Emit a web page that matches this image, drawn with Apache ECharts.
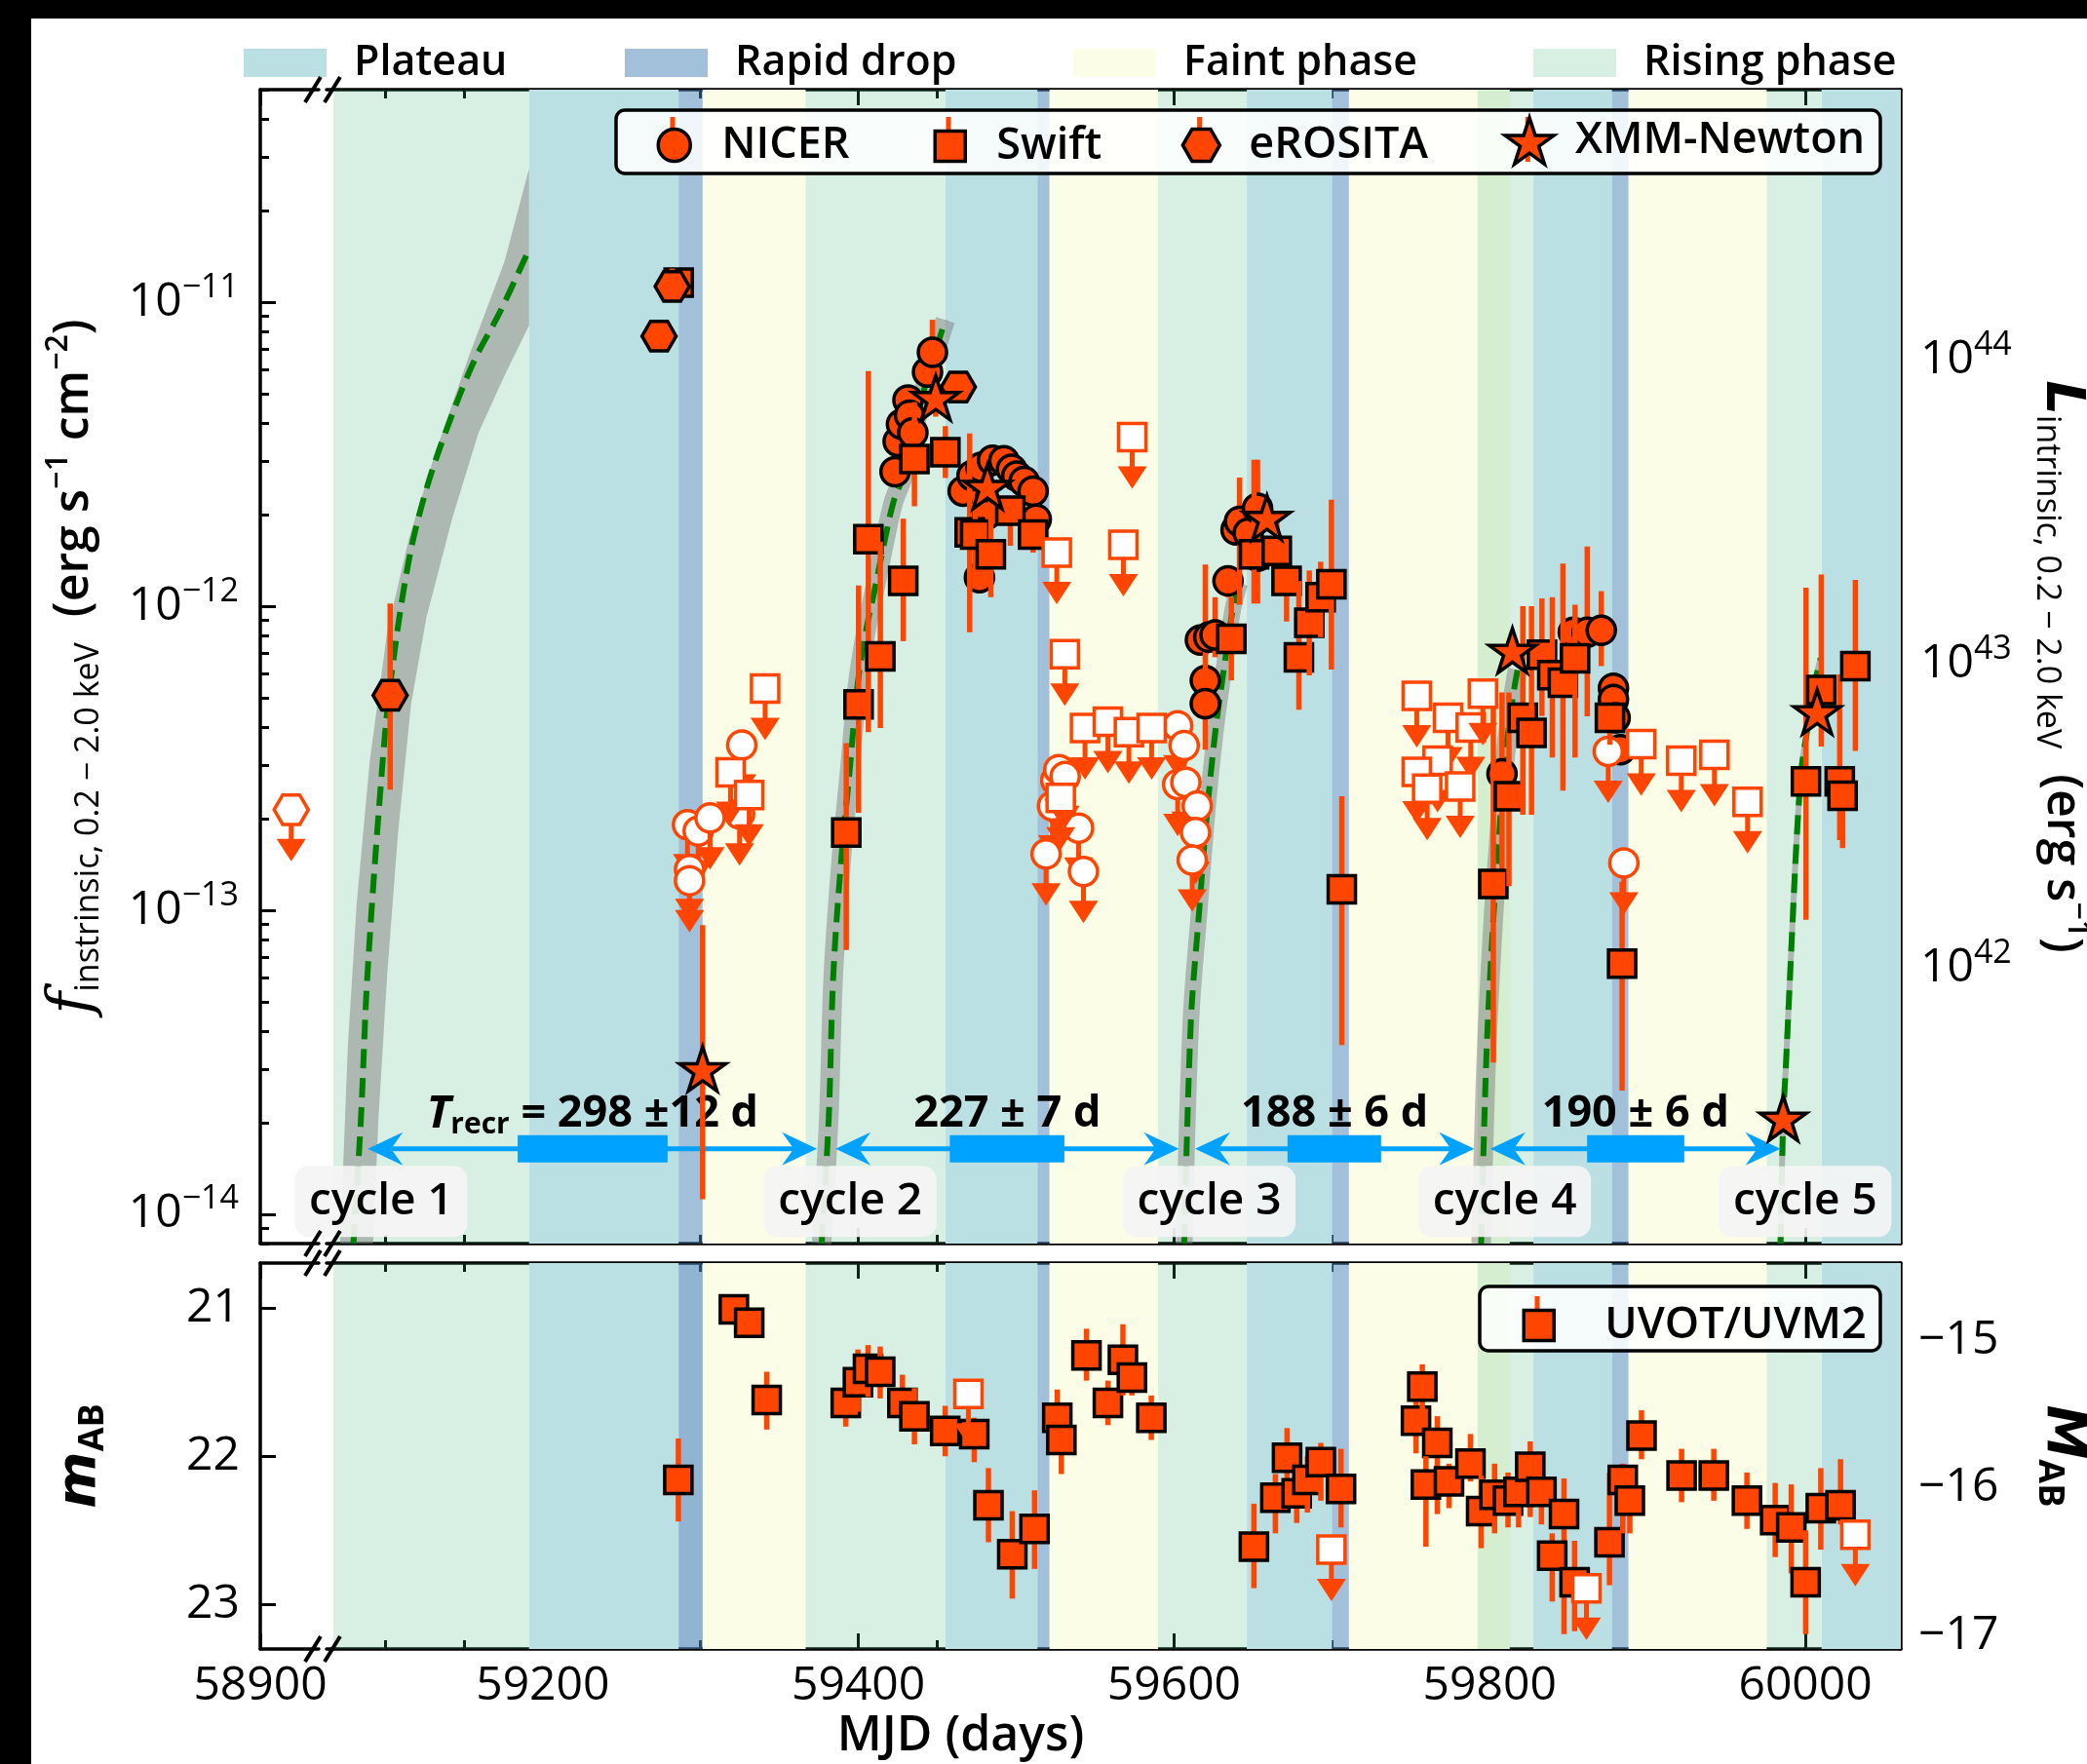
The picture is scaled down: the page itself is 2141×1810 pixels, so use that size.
<!DOCTYPE html>
<html>
<head>
<meta charset="utf-8">
<title>Repeating nuclear transient light curve</title>
<script src="https://cdn.jsdelivr.net/npm/echarts@6/dist/echarts.min.js"></script>
<style>
html, body { margin: 0; padding: 0; background: #fff; }
#chart { width: 2141px; height: 1810px; }
</style>
</head>
<body>
<div id="chart"></div>
<script>
// ======================= DATA =======================
// X-ray detections: [MJD, flux, fluxLow, fluxHigh]  (erg s^-1 cm^-2, 0.2-2 keV)
const nicerDet = [
  [59423.2, 2.77e-12, 2.55e-12, 3.0e-12], [59425.2, 3.48e-12, 3.2e-12, 3.75e-12],
  [59427.3, 3.97e-12, 3.7e-12, 4.3e-12], [59431.4, 4.76e-12, 4.4e-12, 5.1e-12],
  [59432.4, 4.25e-12, 3.95e-12, 4.55e-12], [59434.5, 3.72e-12, 3.45e-12, 4.0e-12],
  [59443.8, 5.89e-12, 5.5e-12, 6.3e-12], [59446.9, 6.84e-12, 6.4e-12, 8.75e-12],
  [59466.4, 2.39e-12, 2.2e-12, 2.6e-12], [59472.0, 2.69e-12, 2.5e-12, 2.9e-12],
  [59477.7, 2.86e-12, 2.65e-12, 3.05e-12], [59485.0, 3.02e-12, 2.8e-12, 3.2e-12],
  [59492.2, 3.01e-12, 2.8e-12, 3.2e-12], [59497.0, 2.82e-12, 2.6e-12, 3.0e-12],
  [59500.4, 2.68e-12, 2.5e-12, 2.9e-12], [59505.0, 2.57e-12, 2.4e-12, 2.75e-12],
  [59510.7, 2.39e-12, 2.2e-12, 2.6e-12], [59512.7, 1.93e-12, 1.8e-12, 2.1e-12],
  [59476.7, 1.24e-12, 1.15e-12, 1.35e-12], [59481.0, 2.0e-12, 1.85e-12, 2.15e-12],
  [59616.7, 7.73e-13, 7.0e-13, 8.5e-13], [59619.8, 5.69e-13, 5.1e-13, 6.3e-13],
  [59619.8, 4.78e-13, 3.37e-13, 1.37e-12], [59622.0, 7.9e-13, 7.2e-13, 8.7e-13],
  [59626.0, 8.04e-13, 6.79e-13, 1.07e-12], [59634.2, 1.21e-12, 1.07e-12, 1.35e-12],
  [59639.3, 1.78e-12, 1.6e-12, 1.95e-12], [59641.5, 1.90e-12, 1.01e-12, 2.65e-12],
  [59647.0, 1.74e-12, 1.6e-12, 1.9e-12], [59652.9, 2.10e-12, 1.02e-12, 3.03e-12],
  [59652.9, 1.46e-12, 1.3e-12, 1.6e-12],
  [59807.8, 2.81e-13, 1.2e-13, 5.2e-13], [59853.0, 8.20e-13, 7.5e-13, 9.0e-13],
  [59861.8, 8.20e-13, 4.34e-13, 1.57e-12], [59870.7, 8.32e-13, 6.35e-13, 1.12e-12],
  [59878.4, 5.37e-13, 4.9e-13, 5.9e-13], [59878.4, 4.93e-13, 4.5e-13, 5.4e-13],
  [59879.5, 4.29e-13, 3.9e-13, 4.7e-13], [59882.8, 3.37e-13, 3.1e-13, 3.7e-13]
];
// X-ray upper limits: [MJD, flux]
const nicerUL = [
  [59291.7, 1.91e-13], [59298.5, 1.82e-13], [59306.0, 2.01e-13], [59293.0, 1.36e-13],
  [59293.0, 1.25e-13], [59324.7, 2.07e-13], [59326.1, 3.49e-13],
  [59529.2, 2.86e-13], [59525.1, 2.67e-13], [59523.0, 2.20e-13], [59518.9, 1.53e-13],
  [59539.5, 1.86e-13], [59542.6, 1.34e-13], [59527.0, 2.9e-13], [59531.0, 2.75e-13],
  [59602.3, 4.04e-13], [59606.4, 3.48e-13], [59602.3, 2.59e-13], [59607.5, 2.63e-13],
  [59614.7, 2.20e-13], [59613.6, 1.80e-13], [59611.5, 1.46e-13],
  [59875.1, 3.33e-13], [59885.0, 1.43e-13]
];
const swiftDet = [
  [59286.1, 1.16e-11, 1.08e-11, 1.29e-11],
  [59392.3, 1.80e-13, 7.4e-14, 3.54e-13], [59400.1, 4.75e-13, 2.09e-13, 1.17e-12],
  [59406.3, 1.66e-12, 3.85e-13, 5.93e-12], [59413.9, 6.84e-13, 3.97e-13, 1.63e-12],
  [59428.4, 1.21e-12, 7.67e-13, 1.94e-12], [59435.5, 3.05e-12, 2.13e-12, 4.69e-12],
  [59455.1, 3.21e-12, 2.64e-12, 3.91e-12], [59470.5, 1.75e-12, 8.2e-13, 3.7e-12],
  [59474.0, 1.72e-12, 1.3e-12, 2.3e-12], [59483.9, 1.48e-12, 1.07e-12, 2.51e-12],
  [59496.3, 2.06e-12, 1.58e-12, 2.2e-12], [59510.7, 1.72e-12, 1.5e-12, 2.0e-12],
  [59636.3, 7.80e-13, 5.7e-13, 1.07e-12], [59650.7, 1.48e-12, 1.02e-12, 3.03e-12],
  [59665.1, 1.52e-12, 1.2e-12, 1.9e-12], [59671.3, 1.21e-12, 8.9e-13, 1.35e-12],
  [59679.1, 6.79e-13, 4.56e-13, 1.21e-12], [59685.7, 8.81e-13, 5.92e-13, 1.31e-12],
  [59692.9, 1.07e-12, 7.9e-13, 1.4e-12], [59699.7, 1.18e-12, 6.19e-13, 2.24e-12],
  [59706.3, 1.17e-13, 3.6e-14, 2.37e-13],
  [59802.3, 1.22e-13, 3.15e-14, 5.77e-13], [59812.2, 2.37e-13, 1.2e-13, 5.2e-13],
  [59821.0, 4.29e-13, 2.06e-13, 1.0e-12], [59826.5, 3.83e-13, 2.06e-13, 1.0e-12],
  [59833.1, 6.92e-13, 4.35e-13, 1.06e-12], [59839.7, 5.93e-13, 3.18e-13, 1.07e-12],
  [59846.4, 5.60e-13, 2.47e-13, 1.38e-12], [59854.1, 6.73e-13, 3.18e-13, 1.01e-12],
  [59876.2, 4.29e-13, 3.5e-13, 5.2e-13], [59883.9, 6.67e-14, 2.55e-14, 1.24e-13],
  [60000.4, 2.65e-13, 9.3e-14, 1.15e-12], [60010.1, 5.30e-13, 3.45e-13, 1.27e-12],
  [60021.8, 2.65e-13, 1.7e-13, 5.96e-13], [60023.6, 2.38e-13, 1.6e-13, 2.8e-13],
  [60031.7, 6.35e-13, 3.34e-13, 1.22e-12]
];
const swiftUL = [
  [59319.0, 2.84e-13], [59330.8, 2.39e-13], [59340.9, 5.36e-13],
  [59525.7, 1.50e-12], [59530.8, 6.95e-13], [59567.9, 1.59e-12], [59573.5, 3.60e-12],
  [59528.2, 2.34e-13], [59543.6, 3.97e-13], [59558.1, 4.17e-13], [59571.4, 3.85e-13],
  [59585.8, 3.97e-13],
  [59753.8, 5.07e-13], [59773.6, 4.29e-13], [59788.0, 3.99e-13], [59795.7, 5.15e-13],
  [59767.0, 3.10e-13], [59753.8, 2.85e-13], [59760.4, 2.51e-13], [59781.3, 2.55e-13],
  [59896.0, 3.52e-13], [59921.4, 3.10e-13], [59942.4, 3.24e-13], [59963.4, 2.27e-13]
];
const erositaDet = [
  [59103.3, 5.09e-13, 2.49e-13, 1.02e-12], [59273.7, 7.73e-12, 7.73e-12, 7.73e-12],
  [59282.0, 1.127e-11, 1.08e-11, 1.29e-11], [59463.3, 5.26e-12, 5.26e-12, 5.26e-12]
];
const erositaUL = [[58919.6, 2.14e-13]];
const xmmDet = [
  [59301.3, 2.95e-14, 1.12e-14, 8.93e-14], [59449.0, 4.76e-12, 4.2e-12, 5.4e-12],
  [59481.8, 2.43e-12, 2.3e-12, 2.6e-12], [59658.9, 1.92e-12, 1.8e-12, 2.05e-12],
  [59814.4, 7.02e-13, 6.6e-13, 7.5e-13], [59986.0, 2.03e-14, 2.03e-14, 2.03e-14],
  [60007.5, 4.41e-13, 4.1e-13, 4.7e-13]
];
const xmmUL = [];
// UVOT/UVM2: [MJD, m_AB, brightEnd, faintEnd]
const uvotDet = [
  [59285.9, 22.16, 21.88, 22.44], [59321.1, 21.01, 20.98, 21.04], [59330.8, 21.10, 21.07, 21.13],
  [59341.9, 21.62, 21.43, 21.82], [59392.0, 21.64, 21.47, 21.80], [59399.7, 21.50, 21.28, 21.70],
  [59406.1, 21.41, 21.25, 21.60], [59413.8, 21.43, 21.26, 21.61], [59427.9, 21.64, 21.45, 21.78],
  [59435.5, 21.73, 21.54, 21.92], [59455.0, 21.83, 21.66, 22.00], [59473.4, 21.85, 21.74, 22.04],
  [59482.4, 22.33, 22.08, 22.58], [59497.5, 22.66, 22.37, 22.96], [59511.6, 22.49, 22.23, 22.76],
  [59526.0, 21.74, 21.55, 21.95], [59528.6, 21.89, 21.78, 22.12], [59544.5, 21.32, 21.14, 21.49],
  [59558.1, 21.64, 21.49, 21.79], [59567.6, 21.35, 21.11, 21.59], [59573.3, 21.47, 21.30, 21.59],
  [59585.6, 21.74, 21.59, 21.89], [59650.6, 22.61, 22.32, 22.89], [59664.2, 22.28, 22.12, 22.52],
  [59671.6, 22.01, 21.81, 22.28], [59677.7, 22.25, 22.11, 22.45], [59684.5, 22.16, 22.00, 22.38],
  [59693.0, 22.04, 21.91, 22.30], [59705.8, 22.22, 21.95, 22.48], [59753.3, 21.76, 21.60, 21.98],
  [59757.3, 21.53, 21.38, 21.69], [59766.8, 21.91, 21.73, 22.39], [59759.6, 22.19, 22.00, 22.61],
  [59774.2, 22.17, 22.05, 22.35], [59787.8, 22.05, 21.85, 22.17], [59794.6, 22.37, 22.13, 22.62],
  [59803.1, 22.26, 22.05, 22.52], [59811.6, 22.30, 22.11, 22.48], [59818.3, 22.24, 22.08, 22.48],
  [59825.7, 22.07, 21.90, 22.41], [59832.8, 22.24, 22.15, 22.46], [59847.1, 22.39, 22.15, 23.20],
  [59839.6, 22.67, 22.52, 22.98], [59853.8, 22.85, 22.57, 23.18], [59875.9, 22.58, 22.11, 22.87],
  [59884.3, 22.16, 22.05, 22.52], [59888.8, 22.30, 22.24, 22.52], [59896.2, 21.86, 21.69, 22.02],
  [59921.6, 22.13, 21.95, 22.31], [59942.0, 22.13, 21.95, 22.30], [59963.0, 22.30, 22.11, 22.49],
  [59980.9, 22.43, 22.18, 22.68], [59991.1, 22.48, 22.19, 22.79], [60000.2, 22.85, 22.50, 23.20],
  [60009.8, 22.35, 22.08, 22.63], [60022.3, 22.33, 22.02, 22.46]
];
const uvotUL = [[59469.7, 21.58], [59699.7, 22.63], [59861.3, 22.89], [60031.7, 22.53]];

// Rise model curves [MJD, flux]
const fitCycle1 = [[59080.0, 8.0e-15], [59084.8, 2.07e-14], [59088.9, 6.12e-14], [59098.6, 3.10e-13],
  [59104.1, 5.93e-13], [59115.1, 1.41e-12], [59126.2, 2.42e-12], [59140.0, 3.93e-12],
  [59156.5, 6.40e-12], [59173.1, 9.33e-12], [59191.0, 1.48e-11]];
const bandCycle1Upper = [[59071.6, 8.0e-15], [59076.5, 3.56e-14], [59082.1, 1.05e-13], [59090.4, 3.10e-13],
  [59101.4, 8.20e-13], [59115.1, 1.66e-12], [59131.7, 3.17e-12], [59153.7, 6.75e-12],
  [59175.8, 1.36e-11], [59191.3, 2.75e-11]];
const bandCycle1Lower = [[59092.5, 8.0e-15], [59095.9, 2.07e-14], [59101.4, 6.12e-14], [59108.3, 1.80e-13],
  [59116.6, 4.78e-13], [59126.2, 9.14e-13], [59142.7, 1.95e-12], [59159.3, 3.72e-12],
  [59175.8, 5.74e-12], [59191.3, 8.38e-12]];
const fitCycle2 = [[59376.7, 8.0e-15], [59381.2, 2.07e-14], [59384.1, 6.12e-14], [59389.2, 1.48e-13],
  [59394.4, 2.86e-13], [59399.5, 5.52e-13], [59404.6, 8.18e-13], [59409.8, 1.10e-12],
  [59416.0, 1.58e-12], [59422.2, 2.20e-12], [59428.4, 2.68e-12], [59441.5, 5.13e-12], [59455.1, 8.73e-12]];
const fitCycle3 = [[59606.5, 8.0e-15], [59610.6, 4.24e-14], [59615.7, 9.59e-14], [59620.8, 2.06e-13],
  [59626.0, 3.80e-13], [59631.2, 6.01e-13], [59637.3, 9.79e-13], [59641.6, 1.19e-12]];
const fitCycle4 = [[59794.6, 8.0e-15], [59798.0, 3.40e-14], [59802.3, 9.35e-14], [59805.6, 1.64e-13],
  [59809.0, 2.89e-13], [59812.2, 4.06e-13], [59815.6, 5.37e-13], [59817.7, 6.18e-13]];
const fitCycle5 = [[59984.3, 8.0e-15], [59986.0, 2.08e-14], [59987.6, 3.02e-14], [59989.8, 5.32e-14],
  [59992.0, 9.35e-14], [59994.3, 1.64e-13], [59997.5, 2.89e-13], [60000.9, 3.83e-13],
  [60005.3, 5.37e-13], [60009.7, 6.73e-13]];

// Phase intervals [startMJD, endMJD]
const faintPhases = [[59301.3, 59366.6], [59521.0, 59589.9], [59710.8, 59812.7], [59887.9, 59975.5]];
const risingPhases = [[59067.4, 59191.3], [59366.6, 59455.1], [59589.9, 59646.1], [59792.3, 59827.7], [59975.5, 60010.3]];
const plateauPhases = [[59191.3, 59286.1], [59455.1, 59513.5], [59646.1, 59700.1], [59827.7, 59877.5], [60010.3, 60060.5]];
const rapidDropPhases = [[59286.1, 59301.3], [59513.5, 59521.0], [59700.1, 59710.8], [59877.5, 59887.9]];
const rapidDropExtraUV = [[59286.1, 59301.3]];

// Recurrence arrows [startMJD, endMJD], uncertainty bars, labels
const recurArrows = [[59089.1, 59373.8], [59385.5, 59603.1], [59613.3, 59790.2], [59800.4, 59984.3]];
const recurBars = [[59184.1, 59279.1], [59457.9, 59530.5], [59671.9, 59731.2], [59861.7, 59923.3]];
const recurLabels = ['298 ±12 d', '227 ± 7 d', '188 ± 6 d', '190 ± 6 d'];
const cycleNames = ['cycle 1', 'cycle 2', 'cycle 3', 'cycle 4', 'cycle 5'];
const cycleLabelMJD = [59097.5, 59394.8, 59622.3, 59809.5, 59999.9];

// Axis ticks
const xMajorTicks = [58900, 59200, 59400, 59600, 59800, 60000];
const xMinorTicks = [59100, 59150, 59250, 59300, 59350, 59450, 59500, 59550, 59650, 59700, 59750, 59850, 59900, 59950, 60050];
const fluxTicks = [1e-14, 1e-13, 1e-12, 1e-11];
const lumTicks = [1e42, 1e43, 1e44];
const appMagTicks = [21, 22, 23];
const absMagTicks = [-15, -16, -17];
const absMagMinorTicks = [-14.5, -15.5, -16.5];

// ======================= CONSTANTS =======================
const X_MIN = 58900, X_MAX = 60060.5;
const BREAK_START = 58937, BREAK_END = 59063, BREAK_GAP = 5;
const F_MIN = 8e-15, F_MAX = 5e-11;
const L_PER_F = 1.55e55;
const M_APP_MIN = 20.697, M_APP_MAX = 23.30;
const M_ABS_MIN = -17.09, M_ABS_MAX = -14.48;
const ARROW_FLUX = 1.64e-14, LABEL_FLUX = 2.13e-14, CYCLE_FLUX = 1.10e-14;

const FONT = "'Open Sans', 'Noto Sans', 'DejaVu Sans', sans-serif";
const ORANGE = '#ff4500';
const BLUE = '#00a2ff';
const GREEN = '#008000';
const GRAY_BAND = 'rgba(128,128,128,0.5)';
const C_PLATEAU = '#bbe0e3', C_RAPID = 'rgba(70,130,180,0.5)', C_FAINT = '#fbfde6', C_RISING = 'rgba(60,179,113,0.2)';
const C_RAPID_EXTRA = 'rgba(70,130,180,0.18)';
const GRID0 = {left: 267, top: 92, width: 1683, height: 1184};
const GRID1 = {left: 267, top: 1296, width: 1683, height: 396};

function logMinor(e0, e1) {
  const out = [];
  for (let e = e0; e <= e1; e++) for (let k = 2; k <= 9; k++) out.push(k * Math.pow(10, e));
  return out;
}
const fluxMinorTicks = logMinor(-15, -11);
const lumMinorTicks = logMinor(41, 44);

// ======================= RENDERERS =======================
function phaseRender(color, yRef) {
  return function (params, api) {
    const cs = params.coordSys;
    const x0 = api.coord([api.value(0), yRef])[0];
    const x1 = api.coord([api.value(1), yRef])[0];
    const r = echarts.graphic.clipRectByRect(
      {x: x0, y: cs.y, width: x1 - x0, height: cs.height},
      {x: cs.x, y: cs.y, width: cs.width, height: cs.height});
    if (!r) return null;
    return {type: 'rect', shape: r, style: {fill: color}};
  };
}

function markerEl(shape, cx, cy, open) {
  const style = {fill: open ? '#fff' : ORANGE, stroke: open ? ORANGE : '#000', lineWidth: 3.5};
  if (shape === 'circle') return {type: 'circle', shape: {cx: cx, cy: cy, r: 14.5}, style: style};
  if (shape === 'square') return {type: 'rect', shape: {x: cx - 14, y: cy - 14, width: 28, height: 28}, style: style};
  const pts = [];
  if (shape === 'hexagon') {
    for (let k = 0; k < 6; k++) { const a = k * Math.PI / 3; pts.push([cx + 17.5 * Math.cos(a), cy + 17.5 * Math.sin(a)]); }
  } else {
    for (let k = 0; k < 10; k++) { const a = -Math.PI / 2 + k * Math.PI / 5; const r = (k % 2) ? 9.6 : 25; pts.push([cx + r * Math.cos(a), cy + r * Math.sin(a)]); }
  }
  return {type: 'polygon', shape: {points: pts}, style: style};
}

function instRender(shape) {
  return function (params, api) {
    const p = api.coord([api.value(0), api.value(1)]);
    const isUL = api.value(4) === 1;
    const ch = [];
    if (isUL) {
      ch.push({type: 'line', shape: {x1: p[0], y1: p[1], x2: p[0], y2: p[1] + 32}, style: {stroke: ORANGE, lineWidth: 5}});
      ch.push({type: 'polygon', shape: {points: [[p[0] - 15, p[1] + 30], [p[0] + 15, p[1] + 30], [p[0], p[1] + 53]]}, style: {fill: ORANGE}});
    } else {
      const lo = api.coord([api.value(0), api.value(2)]);
      const hi = api.coord([api.value(0), api.value(3)]);
      if (Math.abs(lo[1] - hi[1]) > 1) {
        ch.push({type: 'line', shape: {x1: p[0], y1: lo[1], x2: p[0], y2: hi[1]}, style: {stroke: ORANGE, lineWidth: 5.5}});
      }
    }
    ch.push(markerEl(shape, p[0], p[1], isUL));
    return {type: 'group', children: ch};
  };
}

const recurRich = {
  tn: {fontSize: 45, fontWeight: 'bold', fontFamily: FONT, fill: '#000', lineHeight: 52},
  ti: {fontSize: 47, fontWeight: 'bold', fontStyle: 'italic', fontFamily: FONT, fill: '#000', lineHeight: 52},
  ts: {fontSize: 30, fontWeight: 'bold', fontFamily: FONT, fill: '#000', lineHeight: 30, verticalAlign: 'bottom'}
};
function recurRender(params, api) {
  const i = params.dataIndex;
  const p0 = api.coord([api.value(0), ARROW_FLUX]);
  const p1 = api.coord([api.value(1), ARROW_FLUX]);
  const b0 = api.coord([api.value(2), ARROW_FLUX]);
  const b1 = api.coord([api.value(3), ARROW_FLUX]);
  const tc = api.coord([(api.value(0) + api.value(1)) / 2, LABEL_FLUX]);
  const y = p0[1];
  const HL = 36, HW = 17, NOTCH = 24;
  const label = i === 0 ? '{ti|T}{ts|recr}{tn| = ' + recurLabels[i] + '}' : '{tn|' + recurLabels[i] + '}';
  return {type: 'group', children: [
    {type: 'line', shape: {x1: p0[0] + NOTCH, y1: y, x2: p1[0] - NOTCH, y2: y}, style: {stroke: BLUE, lineWidth: 5}},
    {type: 'rect', shape: {x: b0[0], y: y - 14, width: b1[0] - b0[0], height: 28}, style: {fill: BLUE}},
    {type: 'polygon', shape: {points: [[p0[0], y], [p0[0] + HL, y - HW], [p0[0] + NOTCH, y], [p0[0] + HL, y + HW]]}, style: {fill: BLUE}},
    {type: 'polygon', shape: {points: [[p1[0], y], [p1[0] - HL, y - HW], [p1[0] - NOTCH, y], [p1[0] - HL, y + HW]]}, style: {fill: BLUE}},
    {type: 'text', x: tc[0], y: tc[1], style: {text: label, align: 'center', verticalAlign: 'middle', rich: recurRich}}
  ]};
}

function cycleRender(params, api) {
  const p = api.coord([api.value(0), api.value(1)]);
  return {type: 'group', children: [
    {type: 'rect', shape: {x: p[0] - 88.5, y: p[1] - 36.5, width: 177, height: 73, r: 14}, style: {fill: 'rgba(244,244,244,0.93)'}},
    {type: 'text', x: p[0], y: p[1], style: {text: cycleNames[params.dataIndex], align: 'center', verticalAlign: 'middle',
      fontSize: 46, fontFamily: FONT, fontWeight: 600, fill: '#000'}}
  ]};
}

function bandPolygonRender(params, api) {
  const pts = bandCycle1Upper.concat(bandCycle1Lower.slice().reverse()).map(function (p) { return api.coord(p); });
  return {type: 'polygon', shape: {points: pts}, style: {fill: GRAY_BAND}};
}

// ======================= AXES =======================
const tickLine = {color: '#000', width: 3};
function xAxisDef(grid, pos, kind) {
  const major = kind !== 'minor';
  return {
    type: 'value', gridIndex: grid, position: pos, min: X_MIN, max: X_MAX,
    breaks: [{start: BREAK_START, end: BREAK_END, gap: BREAK_GAP}],
    breakArea: {show: false},
    axisLine: {show: major, onZero: false, lineStyle: {color: '#000', width: 3.5}},
    axisTick: {show: true, inside: true, length: major ? 16 : 9, customValues: major ? xMajorTicks : xMinorTicks, lineStyle: tickLine},
    axisLabel: {show: kind === 'label', customValues: xMajorTicks, margin: 14, color: '#000',
      fontSize: 48, fontFamily: FONT, fontWeight: 500, formatter: function (v) { return String(Math.round(v)); }},
    splitLine: {show: false}, minorTick: {show: false}, minorSplitLine: {show: false}
  };
}
function powLabel(v) {
  const e = Math.round(Math.log10(v));
  return '{b|10}{s|' + (e < 0 ? '−' + (-e) : String(e)) + '}';
}
const powRich = {
  b: {fontSize: 48, fontFamily: FONT, fontWeight: 500, color: '#000', lineHeight: 64},
  s: {fontSize: 34, fontFamily: FONT, fontWeight: 500, color: '#000', lineHeight: 34, verticalAlign: 'top'}
};
const nameRich = {
  fi: {fontSize: 62, fontStyle: 'italic', fontWeight: 'normal', fontFamily: "'DejaVu Serif', serif", color: '#000', lineHeight: 64},
  li: {fontSize: 56, fontStyle: 'italic', fontWeight: 'bold', fontFamily: "'DejaVu Sans', sans-serif", color: '#000', lineHeight: 64},
  sub: {fontSize: 34, fontFamily: FONT, fontWeight: 500, color: '#000', lineHeight: 36, verticalAlign: 'bottom'},
  subb: {fontSize: 36, fontFamily: FONT, fontWeight: 'bold', color: '#000', lineHeight: 36, verticalAlign: 'bottom'},
  t: {fontSize: 50, fontFamily: FONT, fontWeight: 600, color: '#000', lineHeight: 64},
  sup: {fontSize: 32, fontFamily: FONT, fontWeight: 600, color: '#000', lineHeight: 34, verticalAlign: 'top'}
};
function yBase(grid, pos, type, min, max, inverse) {
  return {
    type: type, gridIndex: grid, position: pos, min: min, max: max, inverse: !!inverse,
    axisLine: {show: true, onZero: false, lineStyle: {color: '#000', width: 3.5}},
    splitLine: {show: false}, minorTick: {show: false}, minorSplitLine: {show: false},
    nameMoveOverlap: false
  };
}
function yMinor(grid, pos, type, min, max, ticks, inverse) {
  const a = yBase(grid, pos, type, min, max, inverse);
  a.axisLine = {show: false};
  a.axisLabel = {show: false};
  a.axisTick = {show: true, inside: true, length: 9, customValues: ticks, lineStyle: tickLine};
  return a;
}

const yAxes = [];
// 0: flux (left, major + labels)
(function () {
  const a = yBase(0, 'left', 'log', F_MIN, F_MAX);
  a.logBase = 10;
  a.axisTick = {show: true, inside: true, length: 16, customValues: fluxTicks, lineStyle: tickLine};
  a.axisLabel = {show: true, customValues: fluxTicks, margin: 22, formatter: powLabel, rich: powRich};
  a.name = '{fi|f}{sub|instrinsic, 0.2 − 2.0 keV}{t|  (erg s}{sup|−1}{t| cm}{sup|−2}{t|)}';
  a.nameLocation = 'middle'; a.nameGap = 159; a.nameRotate = 90;
  a.nameTextStyle = {rich: nameRich};
  yAxes.push(a);
})();
// 1: flux minor
yAxes.push(yMinor(0, 'left', 'log', F_MIN, F_MAX, fluxMinorTicks));
// 2: luminosity (right)
(function () {
  const a = yBase(0, 'right', 'log', F_MIN * L_PER_F, F_MAX * L_PER_F);
  a.logBase = 10;
  a.axisTick = {show: true, inside: true, length: 16, customValues: lumTicks, lineStyle: tickLine};
  a.axisLabel = {show: true, customValues: lumTicks, margin: 20, formatter: powLabel, rich: powRich};
  a.name = '{li|L}{sub|intrinsic, 0.2 − 2.0 keV}{t|  (erg s}{sup|−1}{t|)}';
  a.nameLocation = 'middle'; a.nameGap = 133; a.nameRotate = -90;
  a.nameTextStyle = {rich: nameRich};
  yAxes.push(a);
})();
// 3: luminosity minor
yAxes.push(yMinor(0, 'right', 'log', F_MIN * L_PER_F, F_MAX * L_PER_F, lumMinorTicks));
// 4: apparent magnitude (left, bottom panel)
(function () {
  const a = yBase(1, 'left', 'value', M_APP_MIN, M_APP_MAX, true);
  a.axisTick = {show: true, inside: true, length: 16, customValues: appMagTicks, lineStyle: tickLine};
  a.axisLabel = {show: true, customValues: appMagTicks, margin: 21, color: '#000', fontSize: 48, fontFamily: FONT, fontWeight: 500,
    formatter: function (v) { return String(Math.round(v)); }};
  a.name = '{li|m}{subb|AB}';
  a.nameLocation = 'middle'; a.nameGap = 153; a.nameRotate = 90;
  a.nameTextStyle = {rich: nameRich};
  yAxes.push(a);
})();
// 5: absolute magnitude (right, bottom panel)
(function () {
  const a = yBase(1, 'right', 'value', M_ABS_MIN, M_ABS_MAX, false);
  a.axisTick = {show: true, inside: true, length: 16, customValues: absMagTicks, lineStyle: tickLine};
  a.axisLabel = {show: true, customValues: absMagTicks, margin: 18, color: '#000', fontSize: 48, fontFamily: FONT, fontWeight: 500,
    formatter: function (v) { return '−' + Math.abs(Math.round(v)); }};
  a.name = '{li|M}{subb|AB}';
  a.nameLocation = 'middle'; a.nameGap = 134; a.nameRotate = -90;
  a.nameTextStyle = {rich: nameRich};
  yAxes.push(a);
})();
// 6: absolute magnitude minor
yAxes.push(yMinor(1, 'right', 'value', M_ABS_MIN, M_ABS_MAX, absMagMinorTicks, false));

const xAxes = [
  xAxisDef(0, 'bottom', 'major'), xAxisDef(0, 'top', 'major'),
  xAxisDef(0, 'bottom', 'minor'), xAxisDef(0, 'top', 'minor'),
  xAxisDef(1, 'bottom', 'label'), xAxisDef(1, 'top', 'major'),
  xAxisDef(1, 'bottom', 'minor'), xAxisDef(1, 'top', 'minor')
];
xAxes[4].name = 'MJD (days)';
xAxes[4].nameLocation = 'middle';
xAxes[4].nameGap = 62;
xAxes[4].nameMoveOverlap = false;
xAxes[4].nameTextStyle = {fontSize: 50, fontFamily: FONT, fontWeight: 600, color: '#000', lineHeight: 56, padding: [0, 246, 0, 0]};

// ======================= SERIES =======================
function phaseSeries(name, arr, color, grid) {
  return {
    type: 'custom', name: name, coordinateSystem: 'cartesian2d',
    xAxisIndex: grid === 0 ? 0 : 4, yAxisIndex: grid === 0 ? 0 : 4,
    itemStyle: {color: color}, z: 1, silent: true,
    renderItem: phaseRender(color, grid === 0 ? 1e-12 : 22),
    data: arr
  };
}
function instSeries(name, shape, det, ul, grid, z) {
  const data = det.map(function (d) { return [d[0], d[1], d[2], d[3], 0]; })
    .concat(ul.map(function (d) { return [d[0], d[1], d[1], d[1], 1]; }));
  return {
    type: 'custom', name: name, coordinateSystem: 'cartesian2d',
    xAxisIndex: grid === 0 ? 0 : 4, yAxisIndex: grid === 0 ? 0 : 4,
    itemStyle: {color: ORANGE}, z: z, silent: true,
    renderItem: instRender(shape), data: data
  };
}
function fitLine(data) {
  return {type: 'line', xAxisIndex: 0, yAxisIndex: 0, data: data, showSymbol: false, symbol: 'none', smooth: 0.35,
    lineStyle: {color: GREEN, width: 6, type: [20, 10], cap: 'butt'}, z: 4, silent: true};
}
function bandLine(data, w) {
  return {type: 'line', xAxisIndex: 0, yAxisIndex: 0, data: data, showSymbol: false, symbol: 'none', smooth: 0.35,
    lineStyle: {color: GRAY_BAND, width: w, cap: 'butt'}, z: 3, silent: true};
}

const series = [];
[0, 1].forEach(function (g) {
  series.push(phaseSeries('Faint phase', faintPhases, C_FAINT, g));
  series.push(phaseSeries('Rising phase', risingPhases, C_RISING, g));
  series.push(phaseSeries('Plateau', plateauPhases, C_PLATEAU, g));
  series.push(phaseSeries('Rapid drop', rapidDropPhases, C_RAPID, g));
});
series.push(phaseSeries('Rapid drop', rapidDropExtraUV, C_RAPID_EXTRA, 1));
series.push({type: 'custom', coordinateSystem: 'cartesian2d', xAxisIndex: 0, yAxisIndex: 0, z: 3, silent: true,
  renderItem: bandPolygonRender, data: [bandCycle1Upper[0]]});
series.push(bandLine(fitCycle2, 20), bandLine(fitCycle3, 17), bandLine(fitCycle4, 20), bandLine(fitCycle5, 6));
series.push(fitLine(fitCycle1), fitLine(fitCycle2), fitLine(fitCycle3), fitLine(fitCycle4), fitLine(fitCycle5));
series.push({type: 'custom', coordinateSystem: 'cartesian2d', xAxisIndex: 0, yAxisIndex: 0, z: 5, silent: true,
  renderItem: recurRender,
  data: recurArrows.map(function (a, i) { return [a[0], a[1], recurBars[i][0], recurBars[i][1]]; })});
series.push({type: 'custom', coordinateSystem: 'cartesian2d', xAxisIndex: 0, yAxisIndex: 0, z: 6, silent: true,
  renderItem: cycleRender,
  data: cycleLabelMJD.map(function (x) { return [x, CYCLE_FLUX]; })});
series.push(instSeries('NICER', 'circle', nicerDet, nicerUL, 0, 7));
series.push(instSeries('Swift', 'square', swiftDet, swiftUL, 0, 8));
series.push(instSeries('eROSITA', 'hexagon', erositaDet, erositaUL, 0, 9));
series.push(instSeries('XMM-Newton', 'star', xmmDet, xmmUL, 0, 10));
series.push(instSeries('UVOT/UVM2', 'square', uvotDet, uvotUL, 1, 8));

// ======================= LEGENDS =======================
function phaseLegend(name, left, color) {
  return {left: left, top: 43, padding: 0, itemWidth: 85, itemHeight: 29, selectedMode: false, z: 12, orient: 'horizontal',
    textStyle: {fontSize: 43, fontFamily: FONT, fontWeight: 600, color: '#000', lineHeight: 29, padding: [0, 0, 0, 23]},
    data: [{name: name, icon: 'rect', itemStyle: {color: color, borderWidth: 0}}]};
}
const HEX_ICON = 'path://M-1,0L-0.5,-0.866L0.5,-0.866L1,0L0.5,0.866L-0.5,0.866Z';
const STAR_ICON = 'path://M0,-1L0.2245,-0.309L0.951,-0.309L0.3633,0.118L0.5878,0.809L0,0.382L-0.5878,0.809L-0.3633,0.118L-0.951,-0.309L-0.2245,-0.309Z';
function instLegend(name, left, top, icon, w, h, pad) {
  return {left: left, top: top, padding: 0, itemWidth: w, itemHeight: h, selectedMode: false, z: 12,
    textStyle: {fontSize: 45, fontFamily: FONT, fontWeight: 600, color: '#000', lineHeight: h, padding: [0, 0, 0, pad]},
    data: [{name: name, icon: icon, itemStyle: {color: ORANGE, borderColor: '#000', borderWidth: 3.5}}]};
}
const legends = [
  phaseLegend('Plateau', 250, C_PLATEAU), phaseLegend('Rapid drop', 641, C_RAPID),
  phaseLegend('Faint phase', 1101, C_FAINT), phaseLegend('Rising phase', 1573, C_RISING),
  instLegend('NICER', 673.5, 126.5, 'circle', 33, 33, 27),
  instLegend('Swift', 957.5, 127.5, 'rect', 31, 31, 27),
  instLegend('eROSITA', 1211.6, 126.5, HEX_ICON, 38, 33, 25),
  instLegend('XMM-Newton', 1542.3, 119, STAR_ICON, 50, 48, 17),
  instLegend('UVOT/UVM2', 1561.5, 1337.5, 'rect', 31, 31, 47)
];

const option = {
  backgroundColor: '#fff',
  animation: false,
  grid: [
    Object.assign({outerBoundsMode: 'none'}, GRID0),
    Object.assign({outerBoundsMode: 'none'}, GRID1)
  ],
  xAxis: xAxes,
  yAxis: yAxes,
  legend: legends,
  series: series
};

const chart = echarts.init(document.getElementById('chart'), null, {renderer: 'canvas', width: 2141, height: 1810});
chart.setOption(option);

// ---------- decorations: legend frames, legend error bars, axis-break marks, border ----------
const g = [];
g.push({type: 'rect', shape: {x: 632, y: 113, width: 1297, height: 65, r: 9},
  style: {fill: 'rgba(255,255,255,0.85)', stroke: '#000', lineWidth: 3.5}, z: 10, silent: true});
g.push({type: 'rect', shape: {x: 1518, y: 1320, width: 411, height: 66, r: 9},
  style: {fill: 'rgba(255,255,255,0.85)', stroke: '#000', lineWidth: 3.5}, z: 10, silent: true});
[690, 973, 1230.6, 1567.3].forEach(function (x) {
  g.push({type: 'line', shape: {x1: x, y1: 120, x2: x, y2: 166}, style: {stroke: ORANGE, lineWidth: 5}, z: 11, silent: true});
});
g.push({type: 'line', shape: {x1: 1577, y1: 1330, x2: 1577, y2: 1376}, style: {stroke: ORANGE, lineWidth: 5}, z: 11, silent: true});
const bx0 = chart.convertToPixel({xAxisIndex: 0}, BREAK_START);
const bx1 = chart.convertToPixel({xAxisIndex: 0}, BREAK_END);
const bc = (isFinite(bx0) && isFinite(bx1)) ? (bx0 + bx1) / 2 : 328;
[GRID0.top, GRID0.top + GRID0.height, GRID1.top, GRID1.top + GRID1.height].forEach(function (y) {
  [-10, 10].forEach(function (dx) {
    g.push({type: 'line', shape: {x1: bc + dx - 8, y1: y + 13, x2: bc + dx + 8, y2: y - 13},
      style: {stroke: '#000', lineWidth: 4}, z: 20, silent: true});
  });
});
g.push({type: 'rect', shape: {x: 0, y: 0, width: 2141, height: 19}, style: {fill: '#000'}, z: 30, silent: true});
g.push({type: 'rect', shape: {x: 0, y: 0, width: 32, height: 1810}, style: {fill: '#000'}, z: 30, silent: true});
chart.setOption({graphic: g});
</script>
</body>
</html>
